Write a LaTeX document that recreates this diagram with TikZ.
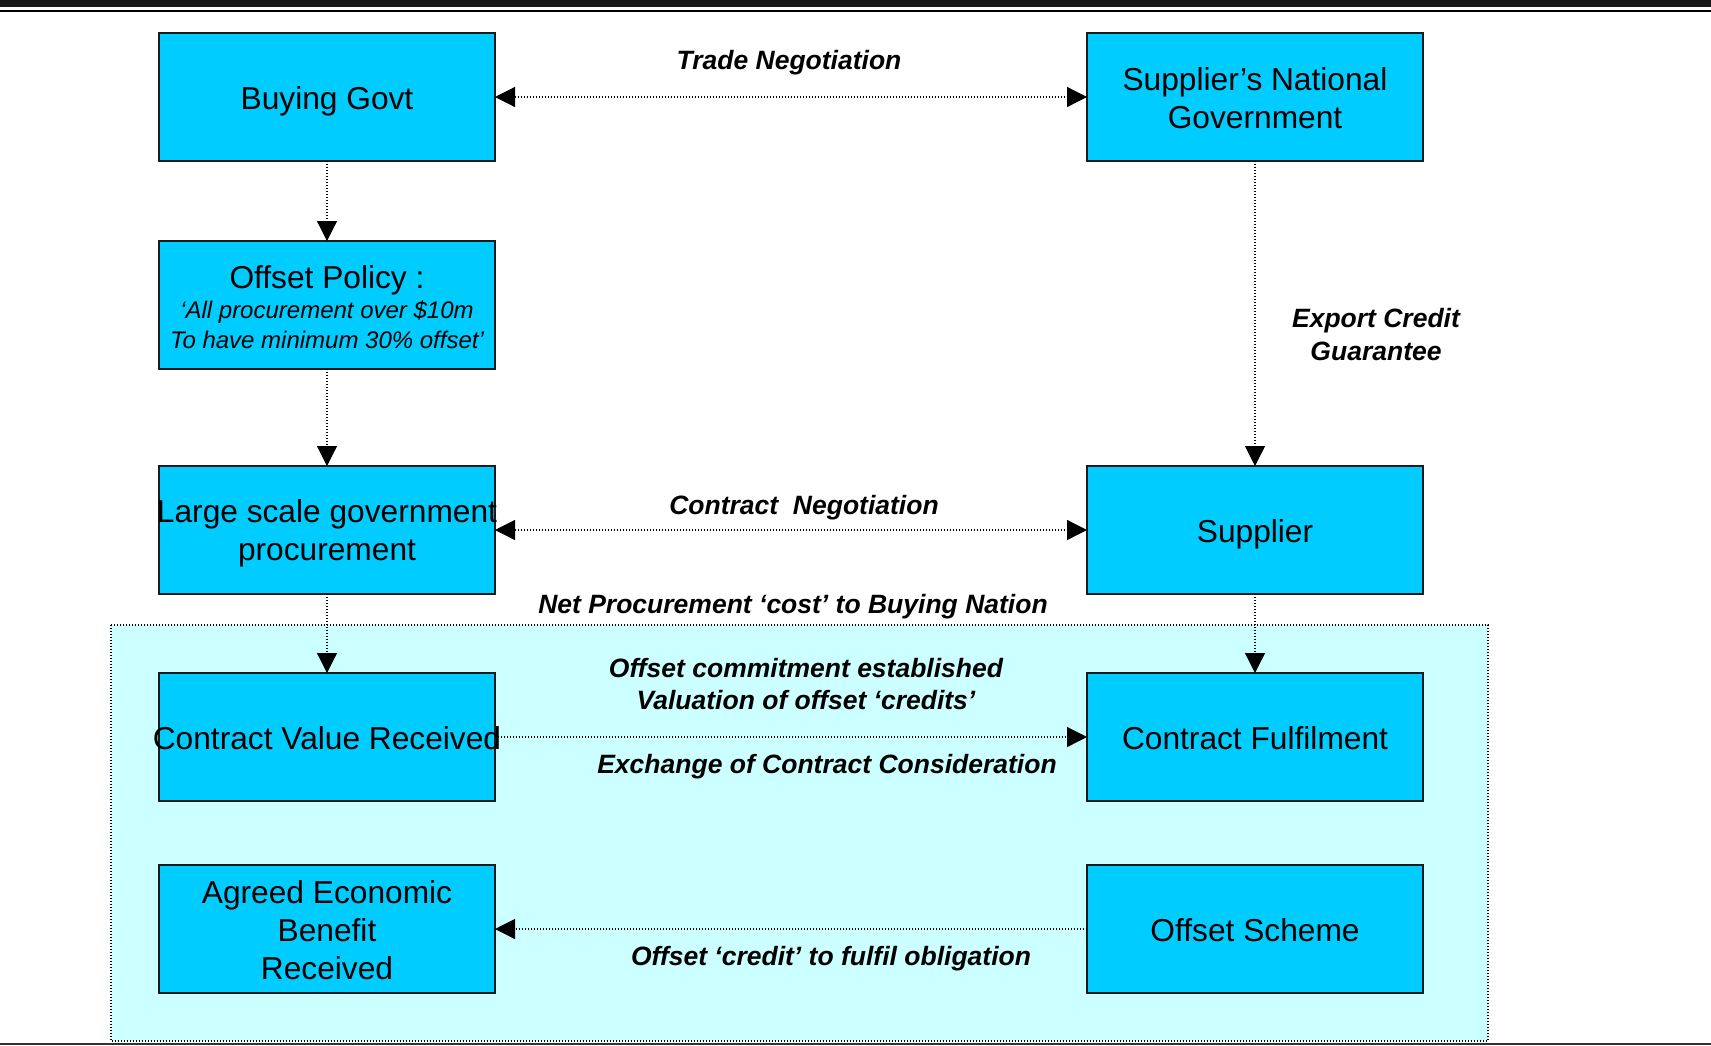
\documentclass[tikz,border=0pt]{standalone}
\usepackage{fontspec}
\setmainfont{Liberation Sans}
\usetikzlibrary{arrows.meta}
\definecolor{stagefill}{HTML}{00CCFF}
\definecolor{zonefill}{HTML}{CCFFFF}
\definecolor{stageline}{HTML}{1A1A1A}
\begin{document}
\begin{tikzpicture}[x=0.5pt,y=-0.5pt,
  stage/.style={draw=stageline, line width=0.8pt, fill=stagefill,
    minimum width=168pt, minimum height=64pt, inner sep=0pt, outer sep=0pt},
  stagetext/.style={font=\fontsize{15.85}{19}\selectfont, align=center, inner sep=0pt},
  tipA/.tip={Triangle[length=10pt,width=10pt]},
  flow/.style={line width=0.6pt, dash pattern=on 0.6pt off 0.9pt, -tipA, shorten >=0pt},
  flowboth/.style={line width=0.6pt, dash pattern=on 0.6pt off 0.9pt, tipA-tipA},
  note/.style={font=\fontsize{13.25}{16.2}\selectfont\bfseries\itshape, align=center, inner sep=0pt}
]
\useasboundingbox (0,0) rectangle (1711,1045);

% page rules
\fill[black!90] (0,0) rectangle (1711,7);
\fill[black] (0,9.5) rectangle (1711,12);
\fill[black!80] (0,1042.5) rectangle (1711,1045);

% shaded zone around the contract exchange
\fill[zonefill] (111,625) rectangle (1488,1041);
\draw[line width=0.6pt, dash pattern=on 0.6pt off 0.9pt] (111,625) rectangle (1488,1041);

% boxes
\node[stage] (bg)  at (327,97)  {};
\node[stage] (sng) at (1255,97) {};
\node[stage] (op)  at (327,305) {};
\node[stage] (lsp) at (327,530) {};
\node[stage] (sup) at (1255,530) {};
\node[stage] (cvr) at (327,737) {};
\node[stage] (cf)  at (1255,737) {};
\node[stage] (aeb) at (327,929) {};
\node[stage] (os)  at (1255,929) {};

% box texts
\node[stagetext, anchor=base] (bgT) at ([yshift=-6.25pt]bg.center) {Buying Govt};
\node[stagetext] (sngT) at ([yshift=-0.8pt]sng.center) {Supplier’s National\\Government};
\node[stagetext] (opT) at ([yshift=-1.2pt]op.center)
  {Offset Policy :\\[-4.1pt]
   {\fontsize{12}{14.5}\selectfont\itshape ‘All procurement over \$10m}\\[-3.9pt]
   {\fontsize{12}{14.5}\selectfont\itshape To have minimum 30\% offset’}};
\node[stagetext] (lspT) at ([yshift=-1.8pt]lsp.center) {Large scale government\\procurement};
\node[stagetext, anchor=base] (supT) at ([yshift=-6.25pt]sup.center) {Supplier};
\node[stagetext, anchor=base] (cvrT) at ([yshift=-6.25pt]cvr.center) {Contract Value Received};
\node[stagetext, anchor=base] (cfT) at ([yshift=-6.25pt]cf.center) {Contract Fulfilment};
\node[stagetext] (aebT) at ([yshift=-0.5pt]aeb.center) {Agreed Economic\\Benefit\\Received};
\node[stagetext, anchor=base] (osT) at ([yshift=-6.25pt]os.center) {Offset Scheme};

% connectors
\draw[flowboth] (bg.east) -- (sng.west);
\draw[flow] (bg.south) -- (op.north);
\draw[flow] (op.south) -- (lsp.north);
\draw[flow] (sng.south) -- (sup.north);
\draw[flowboth] (lsp.east) -- (sup.west);
\draw[flow] (lsp.south) -- (cvr.north);
\draw[flow] (sup.south) -- (cf.north);
\draw[flow] (cvr.east) -- (cf.west);
\draw[flow] (os.west) -- (aeb.east);

% connector labels
\node[note, anchor=base] (lTrade) at (789,69.5) {Trade Negotiation};
\node[note] (lExport) at (1376,334.4) {Export Credit\\Guarantee};
\node[note, anchor=base] (lContract) at (804,514.5) {Contract\ \ Negotiation};
\node[note, anchor=base] (lNet) at (793,613) {Net Procurement ‘cost’ to Buying Nation};
\node[note] (lCommit) at (806,684) {Offset commitment established\\Valuation of offset ‘credits’};
\node[note, anchor=base] (lExchange) at (827,773.5) {Exchange of Contract Consideration};
\node[note, anchor=base] (lCredit) at (831,965.5) {Offset ‘credit’ to fulfil obligation};
\end{tikzpicture}
\end{document}
